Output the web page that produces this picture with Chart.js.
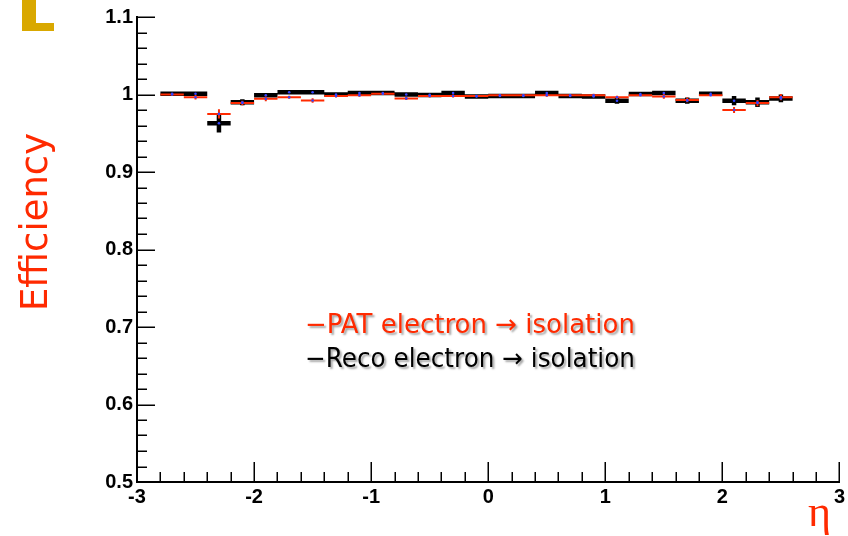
<!DOCTYPE html>
<html>
<head>
<meta charset="utf-8">
<script src="https://cdn.jsdelivr.net/npm/chart.js@4.4.1/dist/chart.umd.min.js"></script>
<style>
  html, body { margin: 0; padding: 0; background: #fff; }
  #wrap { position: relative; width: 848px; height: 536px; overflow: hidden; }
  #corner1 { position: absolute; left: 22px; top: 0; width: 14px; height: 31px; background: #d9a800; }
  #corner2 { position: absolute; left: 22px; top: 23px; width: 32px; height: 8px; background: #d9a800; }
</style>
</head>
<body>
<div id="wrap">
  <canvas id="effChart" width="848" height="536"></canvas>
  <div id="corner1"></div>
  <div id="corner2"></div>
</div>
<script>
// eta bin centres, bins are 0.2 wide
const etaCenters = [-2.7, -2.5, -2.3, -2.1, -1.9, -1.7, -1.5, -1.3, -1.1, -0.9, -0.7, -0.5, -0.3, -0.1,
  0.1, 0.3, 0.5, 0.7, 0.9, 1.1, 1.3, 1.5, 1.7, 1.9, 2.1, 2.3, 2.5];
const binWidth = 0.2;

// Reco electron -> isolation (black)
const recoEff = [1.001, 1.001, 0.963, 0.990, 0.999, 1.003, 1.003, 1.000, 1.002, 1.002, 1.000, 0.9995, 1.002, 0.9975,
  0.998, 0.998, 1.002, 0.998, 0.9975, 0.992, 1.0005, 1.002, 0.992, 1.001, 0.992, 0.990, 0.995];
const recoErr = [0.002, 0.002, 0.012, 0.004, 0.002, 0.001, 0.001, 0.001, 0.001, 0.001, 0.001, 0.001, 0.001, 0.002,
  0.002, 0.002, 0.001, 0.002, 0.002, 0.004, 0.001, 0.001, 0.004, 0.002, 0.006, 0.006, 0.005];

// PAT electron -> isolation (red)
const patEff = [1.000, 0.9965, 0.975, 0.989, 0.9944, 0.9965, 0.9923, 0.998, 0.999, 1.001, 0.995, 0.998, 0.998, 0.998,
  0.999, 0.999, 0.999, 0.999, 0.999, 0.9965, 0.999, 0.9975, 0.993, 0.999, 0.980, 0.989, 0.9965];
const patErr = [0.001, 0.003, 0.006, 0.003, 0.003, 0.002, 0.003, 0.002, 0.002, 0.001, 0.002, 0.002, 0.002, 0.001,
  0.001, 0.001, 0.002, 0.001, 0.002, 0.002, 0.001, 0.003, 0.003, 0.001, 0.004, 0.004, 0.004];

const xTickLabels = ["-3", "-2", "-1", "0", "1", "2", "3"];
const legendLines = [
  { text: "\u2212PAT electron \u2192 isolation", color: "#ff2a00" },
  { text: "\u2212Reco electron \u2192 isolation", color: "#000000" }
];

// horizontal bin segments, broken with nulls so they don't join
function binSegments(vals) {
  return etaCenters.flatMap((c, i) => [
    { x: c - binWidth / 2, y: vals[i] },
    { x: c + binWidth / 2, y: vals[i] },
    { x: c, y: null }
  ]);
}
function errorBars(vals, errs) {
  return etaCenters.flatMap((c, i) => [
    { x: c, y: vals[i] - errs[i] },
    { x: c, y: vals[i] + errs[i] },
    { x: c, y: null }
  ]);
}
function centres(vals) {
  return etaCenters.map((c, i) => ({ x: c, y: vals[i] }));
}

const lineSet = (data, color, width, order) => ({
  data, showLine: true, spanGaps: false, borderColor: color, borderWidth: width,
  pointRadius: 0, borderCapStyle: "butt", order
});

// ROOT style inward ticks with minor divisions
const frameTicks = {
  id: "frameTicks",
  afterDatasetsDraw(chart) {
    const { ctx, chartArea: a, scales: { x, y } } = chart;
    ctx.save();
    ctx.strokeStyle = "#000";
    ctx.lineWidth = 1.5;
    ctx.beginPath();
    for (let k = 0; k <= 30; k++) {
      const px = Math.round(x.getPixelForValue(-3 + k * 0.2)) + 0.25;
      const len = k % 5 === 0 ? 20 : 10;
      ctx.moveTo(px, a.bottom);
      ctx.lineTo(px, a.bottom - len);
    }
    for (let k = 0; k <= 30; k++) {
      const py = Math.round(y.getPixelForValue(0.5 + k * 0.02)) + 0.25;
      const len = k % 5 === 0 ? 18 : 10;
      ctx.moveTo(a.left, py);
      ctx.lineTo(a.left + len, py);
    }
    ctx.stroke();
    ctx.restore();
  },
  afterDraw(chart) {
    const { ctx } = chart;
    ctx.save();
    // legend text with soft shadow
    ctx.font = "26px 'DejaVu Sans'";
    ctx.textBaseline = "alphabetic";
    ctx.shadowColor = "rgba(0,0,0,0.35)";
    ctx.shadowOffsetX = 2;
    ctx.shadowOffsetY = 2;
    ctx.shadowBlur = 2;
    legendLines.forEach((l, i) => {
      ctx.fillStyle = l.color;
      ctx.fillText(l.text, 305, 333 + i * 34, 330);
    });
    ctx.shadowColor = "transparent";
    // axis titles
    ctx.fillStyle = "#ff2a00";
    ctx.font = "37px 'DejaVu Sans'";
    ctx.translate(47, 222);
    ctx.rotate(-Math.PI / 2);
    ctx.textAlign = "center";
    ctx.fillText("Efficiency", 0, 0);
    ctx.setTransform(1, 0, 0, 1, 0, 0);
    ctx.font = "44px 'Liberation Serif'";
    ctx.textAlign = "left";
    ctx.fillText("\u03b7", 808, 526);
    ctx.restore();
  }
};

new Chart(document.getElementById("effChart"), {
  type: "scatter",
  data: {
    datasets: [
      { data: centres(patEff).concat(centres(recoEff)), pointRadius: 1.3, pointBackgroundColor: "#3344ff",
        pointBorderWidth: 0, showLine: false, order: 0 },
      lineSet(binSegments(patEff), "#ff2a00", 2, 1),
      lineSet(errorBars(patEff, patErr), "#ff2a00", 2, 1),
      lineSet(binSegments(recoEff), "#000000", 4.5, 2),
      lineSet(errorBars(recoEff, recoErr), "#000000", 4.5, 2)
    ]
  },
  options: {
    responsive: false,
    animation: false,
    layout: { padding: { top: 17, right: 8, left: 0, bottom: 0 } },
    plugins: { legend: { display: false }, tooltip: { enabled: false } },
    scales: {
      x: {
        type: "linear", min: -3, max: 3,
        afterFit(scale) { scale.height = 54; },
        grid: { display: true, drawOnChartArea: false, drawTicks: false },
        border: { display: true, color: "#000", width: 2 },
        ticks: {
          stepSize: 1, padding: 3, color: "#000",
          font: { family: "'Liberation Sans', Arial", weight: "bold", size: 20 },
          callback: (v) => xTickLabels[Math.round(v) + 3]
        }
      },
      y: {
        type: "linear", min: 0.5, max: 1.1,
        afterFit(scale) { scale.width = 137; },
        grid: { display: true, drawOnChartArea: false, drawTicks: false },
        border: { display: true, color: "#000", width: 2 },
        ticks: {
          stepSize: 0.1, padding: 4, color: "#000",
          font: { family: "'Liberation Sans', Arial", weight: "bold", size: 20 },
          callback: (v) => String(Number(v.toFixed(2)))
        }
      }
    }
  },
  plugins: [frameTicks]
});
</script>
</body>
</html>
